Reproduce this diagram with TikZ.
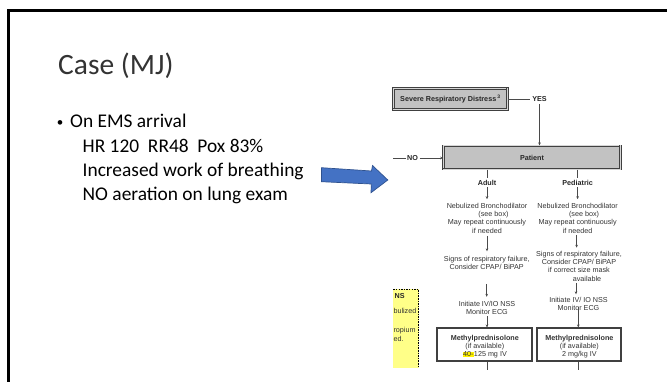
\documentclass[tikz,border=0pt]{standalone}
\usepackage{fontspec}
\setmainfont{Carlito}
\newfontfamily\flowfont{Liberation Sans}
\usetikzlibrary{arrows.meta}
\definecolor{fcline}{HTML}{4A4A4A}
\definecolor{fctext}{HTML}{333333}
\definecolor{boxdark}{HTML}{404040}
\definecolor{boxlight}{HTML}{D6D6D6}
\definecolor{boxfill}{HTML}{C2C2C2}
\definecolor{yellowbg}{HTML}{FFFF88}
\definecolor{hlyellow}{HTML}{FFF200}
\definecolor{arrowblue}{HTML}{4472C4}
\definecolor{arrowedge}{HTML}{2F528F}
\definecolor{titlegray}{HTML}{333333}
\newcommand{\hlt}[1]{{\setlength{\fboxsep}{0.4pt}\colorbox{hlyellow}{#1}}}
\tikzset{
  bodytxt/.style={anchor=base west, inner sep=0, font=\fontsize{19.4}{23}\selectfont, text=black},
  fc/.style={inner sep=0, align=center, text=fctext, font=\flowfont\fontsize{7.2}{8.3}\selectfont},
  fcb/.style={inner sep=0, align=center, text=black!85, font=\flowfont\bfseries\fontsize{7.2}{8.3}\selectfont},
  graybox/.style={draw=boxdark, line width=0.6pt, double=boxlight, double distance=0.9pt, fill=boxfill, inner sep=0, text=black!85, font=\flowfont\bfseries\fontsize{7.2}{8.3}\selectfont},
  wbox/.style={draw=boxdark, line width=1.1pt, fill=white, inner sep=0, minimum width=95pt, minimum height=33pt},
  fcl/.style={draw=fcline, line width=0.7pt},
  fca/.style={draw=fcline, line width=0.7pt, -{Stealth[length=3pt,width=2.6pt]}},
}
\begin{document}
\begin{tikzpicture}[x=1pt,y=-1pt]
\useasboundingbox (0,0) rectangle (667,381);
\fill[white] (0,0) rectangle (667,381);
% slide frame
\draw[line width=2.6pt] (8.7,395) -- (8.7,10.3) -- (690,10.3);
% title and bullet text
\node[anchor=base west, inner sep=0, text=titlegray, font=\fontsize{29.5}{34}\selectfont] (title) at (58,74) {Case (MJ)};
\node[anchor=base, inner sep=0, font=\fontsize{13}{15}\selectfont] (bul) at (60,126) {•};
\node[bodytxt] (l1) at (70,127) {On EMS arrival};
\node[bodytxt] (l2) at (82.5,152.5) {HR 120\ \ RR48\ \ Pox 83\%};
\node[bodytxt] (l3) at (82.5,176.5) {Increased work of breathing};
\node[bodytxt] (l4) at (82.5,200) {NO aeration on lung exam};
% blue block arrow
\filldraw[fill=arrowblue, draw=arrowedge, line width=0.7pt, line join=miter]
  (321.5,167.7) -- (371.5,171) -- (372.5,165.5) -- (387.8,180) -- (371,192.7) -- (371.3,184) -- (321.5,181.7) -- cycle;
% yellow side box
\fill[yellowbg] (393.3,288.5) rectangle (418.5,367.5);
\draw[line width=1.6pt, dash pattern=on 1.5pt off 1.1pt] (393.3,289.3) -- (418.4,289.3) -- (418.4,367.5);
\begin{scope}
\clip (393.3,288.5) rectangle (417.5,367.5);
\node[fcb, anchor=west] (y1) at (394.5,296) {NS};
\node[fc, anchor=west, text=black!80] (y2) at (393.3,311) {bulized};
\node[fc, anchor=west, text=black!80] (y3) at (393.3,330.7) {ropium};
\node[fc, anchor=west, text=black!80] (y4) at (393.3,339.3) {ed.};
\end{scope}
% top of flowchart
\node[graybox, minimum width=114pt, minimum height=21pt] (srd) at (450.5,99) {Severe Respiratory Distress\,\textsuperscript{3}};
\node[graybox, minimum width=177pt, minimum height=23.5pt] (pat) at (532,157.5) {Patient};
\draw[boxdark, line width=1.2pt] ([xshift=-1.1pt]srd.north east) -- ([xshift=-1.1pt,yshift=1.1pt]srd.south east) -- ([yshift=1.1pt]srd.south west);
\draw[boxdark, line width=1.4pt] ([xshift=-1.2pt]pat.north east) -- ([xshift=-1.2pt,yshift=1.2pt]pat.south east) -- ([yshift=1.2pt]pat.south west);
\node[fcb] (yes) at (539.5,99) {YES};
\coordinate (nofree) at (393,158);
\node[fcb] (no) at (412.6,158) {NO};
\draw[fcl, shorten >=2pt] (srd.east) -- (yes.west);
\draw[fca, shorten <=2.5pt] (yes.south) -- (yes.south |- pat.north);
\draw[fcl, shorten >=1.5pt] (nofree) -- (no.west);
\draw[fca, shorten <=1.5pt] (no.east) -- (pat.west |- no.east);
% adult column
\node[fcb] (adl) at (487,182.7) {Adult};
\node[fc] (an1) at (487,218) {Nebulized Bronchodilator\\\hspace*{13pt}(see box)\\May repeat continuously\\if needed};
\node[fc] (an2) at (486.7,262.8) {Signs of respiratory failure,\\Consider CPAP/ BiPAP};
\node[fc] (an3) at (487,307.8) {Initiate IV/IO NSS\\Monitor ECG};
\node[wbox] (abox) at (484.5,344.5) {};
\node[fc] (abt) at (484.8,346.8) {\textbf{Methylprednisolone}\\(if available)\\\hlt{40-}125 mg IV};
\coordinate (aend) at (487,370);
\draw[fcl, shorten >=2pt] (adl.north |- pat.south) -- (adl.north);
\draw[fca, shorten <=1.5pt, shorten >=3.5pt] (adl.south) -- (adl.south |- an1.north);
\draw[fca, shorten <=2.5pt, shorten >=4.5pt] (an1.south) -- (an1.south |- an2.north);
\draw[fca, shorten <=14pt, shorten >=4pt] (an2.south) -- (an2.south |- an3.north);
\draw[fca, shorten <=1.5pt] (an3.south) -- (an3.south |- abox.north);
\draw[fcl] (aend |- abox.south) -- (aend);
% pediatric column
\node[fcb] (pdl) at (577.6,182.7) {Pediatric};
\node[fc] (pn1) at (577.6,218) {Nebulized Bronchodilator\\\hspace*{13pt}(see box)\\May repeat continuously\\if needed};
\node[fc] (pn2) at (579,266) {Signs of respiratory failure,\\Consider CPAP/ BiPAP\\if correct size mask\\\hspace*{16pt}available};
\node[fc] (pn3) at (578.5,303.8) {Initiate IV/ IO NSS\\Monitor ECG};
\node[wbox, minimum width=84pt] (pbox) at (579,344.5) {};
\node[fc] (pbt) at (579.4,346.8) {\textbf{Methylprednisolone}\\(if available)\\2 mg/kg IV};
\coordinate (pend) at (578.3,370);
\draw[fcl, shorten >=2pt] (pdl.north |- pat.south) -- (pdl.north);
\draw[fca, shorten <=1.5pt, shorten >=3.5pt] (pdl.south) -- (pdl.south |- pn1.north);
\draw[fca, shorten <=1.5pt, shorten >=3pt] ([xshift=-1pt]pn1.south) -- ([xshift=-1pt]pn1.south |- pn2.north);
\draw[fca, shorten <=1.5pt, shorten >=2.5pt] ([xshift=-3pt]pn2.south) -- ([xshift=-3pt]pn2.south |- pn3.north);
\draw[fca, shorten <=-4pt] (pend |- pn3.south) -- (pend |- pbox.north);
\draw[fcl] (pend |- pbox.south) -- (pend);
\end{tikzpicture}
\end{document}
